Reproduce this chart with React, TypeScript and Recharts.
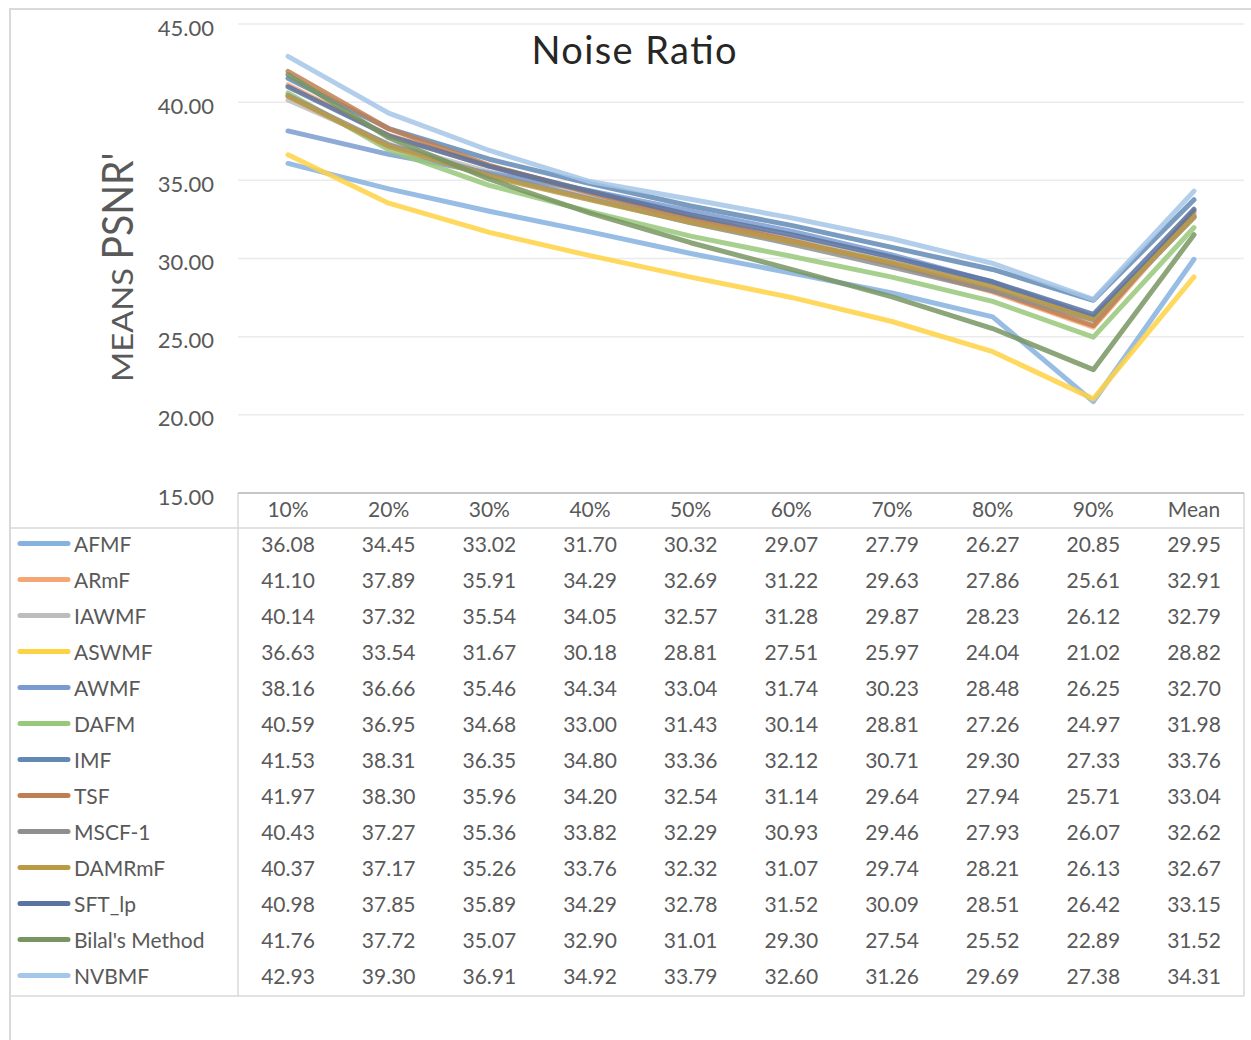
import { LineChart, Line, XAxis, YAxis, CartesianGrid, Customized } from 'recharts';

const categories = ['10%', '20%', '30%', '40%', '50%', '60%', '70%', '80%', '90%', 'Mean'];

const afmf = [36.08, 34.45, 33.02, 31.70, 30.32, 29.07, 27.79, 26.27, 20.85, 29.95];
const armf = [41.10, 37.89, 35.91, 34.29, 32.69, 31.22, 29.63, 27.86, 25.61, 32.91];
const iawmf = [40.14, 37.32, 35.54, 34.05, 32.57, 31.28, 29.87, 28.23, 26.12, 32.79];
const aswmf = [36.63, 33.54, 31.67, 30.18, 28.81, 27.51, 25.97, 24.04, 21.02, 28.82];
const awmf = [38.16, 36.66, 35.46, 34.34, 33.04, 31.74, 30.23, 28.48, 26.25, 32.70];
const dafm = [40.59, 36.95, 34.68, 33.00, 31.43, 30.14, 28.81, 27.26, 24.97, 31.98];
const imf = [41.53, 38.31, 36.35, 34.80, 33.36, 32.12, 30.71, 29.30, 27.33, 33.76];
const tsf = [41.97, 38.30, 35.96, 34.20, 32.54, 31.14, 29.64, 27.94, 25.71, 33.04];
const mscf1 = [40.43, 37.27, 35.36, 33.82, 32.29, 30.93, 29.46, 27.93, 26.07, 32.62];
const damrmf = [40.37, 37.17, 35.26, 33.76, 32.32, 31.07, 29.74, 28.21, 26.13, 32.67];
const sftLp = [40.98, 37.85, 35.89, 34.29, 32.78, 31.52, 30.09, 28.51, 26.42, 33.15];
const bilal = [41.76, 37.72, 35.07, 32.90, 31.01, 29.30, 27.54, 25.52, 22.89, 31.52];
const nvbmf = [42.93, 39.30, 36.91, 34.92, 33.79, 32.60, 31.26, 29.69, 27.38, 34.31];

const yTicks = [15, 20, 25, 30, 35, 40, 45];

const series = [
  { name: 'AFMF', values: afmf },
  { name: 'ARmF', values: armf },
  { name: 'IAWMF', values: iawmf },
  { name: 'ASWMF', values: aswmf },
  { name: 'AWMF', values: awmf },
  { name: 'DAFM', values: dafm },
  { name: 'IMF', values: imf },
  { name: 'TSF', values: tsf },
  { name: 'MSCF-1', values: mscf1 },
  { name: 'DAMRmF', values: damrmf },
  { name: 'SFT_lp', values: sftLp },
  { name: "Bilal's Method", values: bilal },
  { name: 'NVBMF', values: nvbmf },
];

const colors: Record<string, string> = {
  AFMF: '#86B2E0',
  ARmF: '#F4A775',
  IAWMF: '#BDBDBD',
  ASWMF: '#FFD243',
  AWMF: '#7A9BD0',
  DAFM: '#98C87A',
  IMF: '#6289B5',
  TSF: '#C07F50',
  'MSCF-1': '#8F8F8F',
  DAMRmF: '#BB9A45',
  SFT_lp: '#5B73A0',
  "Bilal's Method": '#789561',
  NVBMF: '#A4C6E8',
};

const data = categories.map((category, i) => {
  const row: Record<string, string | number> = { category };
  series.forEach((s) => {
    row[s.name] = s.values[i];
  });
  return row;
});

const FONT = 'Lato, "Noto Sans", sans-serif';
const TEXT = '#595959';
const BORDER = '#D9D9D9';

// data table geometry
const PLOT_LEFT = 238;
const PLOT_RIGHT = 1244;
const TABLE_TOP = 493;
const HEADER_Y = 508;
const HEADER_LINE = 528;
const ROW0 = 543.5;
const ROW_H = 36;
const TABLE_BOTTOM = 996;

// y labels sit a little below their gridlines
const YTick = (props: any) => {
  const { x, y, payload } = props;
  return (
    <text x={x} y={y + 3} textAnchor="end" dominantBaseline="central" fontFamily={FONT} fontSize={22} fill={TEXT}>
      {payload.value.toFixed(2)}
    </text>
  );
};

// one column of the data table, placed by the x axis
const TableColumn = (props: any) => {
  const { x, payload } = props;
  const idx = payload.index;
  return (
    <g>
      <text x={x} y={HEADER_Y} textAnchor="middle" dominantBaseline="central" fontFamily={FONT} fontSize={21} fill={TEXT}>
        {payload.value}
      </text>
      {series.map((s, r) => (
        <text key={s.name} x={x} y={ROW0 + r * ROW_H} textAnchor="middle" dominantBaseline="central" fontFamily={FONT} fontSize={21} fill={TEXT}>
          {s.values[idx].toFixed(2)}
        </text>
      ))}
    </g>
  );
};

const Frame = () => (
  <g>
    <rect x={10} y={9} width={1300} height={1100} fill="none" stroke={BORDER} strokeWidth={2} />
    <text x={634} y={49} textAnchor="middle" dominantBaseline="central" fontFamily={FONT} fontSize={38} textLength={205} lengthAdjust="spacing" fill="#262626">
      Noise Ratio
    </text>
    <text x={133} y={325} transform="rotate(-90 133 325)" textAnchor="middle" fontFamily={FONT} fontSize={29} textLength={114} lengthAdjust="spacingAndGlyphs" fill={TEXT}>
      MEANS
    </text>
    <text x={133} y={206} transform="rotate(-90 133 206)" textAnchor="middle" fontFamily={FONT} fontSize={43} textLength={107} lengthAdjust="spacingAndGlyphs" fill={TEXT}>
      PSNR'
    </text>
    <line x1={11} y1={HEADER_LINE} x2={PLOT_RIGHT} y2={HEADER_LINE} stroke={BORDER} strokeWidth={1.5} />
    <line x1={11} y1={TABLE_BOTTOM} x2={PLOT_RIGHT} y2={TABLE_BOTTOM} stroke={BORDER} strokeWidth={1.5} />
    <line x1={PLOT_LEFT} y1={TABLE_TOP} x2={PLOT_LEFT} y2={TABLE_BOTTOM} stroke={BORDER} strokeWidth={1.5} />
    <line x1={PLOT_RIGHT} y1={TABLE_TOP} x2={PLOT_RIGHT} y2={TABLE_BOTTOM} stroke={BORDER} strokeWidth={1.5} />
    {series.map((s, r) => (
      <g key={s.name}>
        <line x1={20} y1={ROW0 + r * ROW_H} x2={68} y2={ROW0 + r * ROW_H} stroke={colors[s.name]} strokeWidth={5} strokeLinecap="round" />
        <text x={74} y={ROW0 + r * ROW_H} dominantBaseline="central" fontFamily={FONT} fontSize={21} fill={TEXT}>
          {s.name}
        </text>
      </g>
    ))}
  </g>
);

export default function App() {
  return (
    <div style={{ position: 'absolute', left: 0, top: 0, width: 1251, height: 1040, background: '#fff' }}>
      <LineChart width={1251} height={1040} data={data} margin={{ top: 24, right: 7, bottom: 0, left: 0 }}>
        <CartesianGrid vertical={false} stroke="#EBEBEB" strokeWidth={1.5} />
        <XAxis
          dataKey="category"
          height={547}
          padding={{ left: 50, right: 50 }}
          interval={0}
          tickLine={false}
          axisLine={{ stroke: '#C6C6C6', strokeWidth: 2 }}
          tick={<TableColumn />}
        />
        <YAxis
          width={238}
          domain={[15, 45]}
          ticks={yTicks}
          axisLine={false}
          tickLine={false}
          tickSize={0}
          tickMargin={24}
          tick={<YTick />}
        />
        {series.map((s) => (
          <Line
            key={s.name}
            dataKey={s.name}
            stroke={colors[s.name]}
            strokeWidth={5}
            strokeOpacity={0.85}
            strokeLinecap="round"
            strokeLinejoin="round"
            dot={false}
            activeDot={false}
            isAnimationActive={false}
          />
        ))}
        <Customized component={<Frame />} />
      </LineChart>
    </div>
  );
}
